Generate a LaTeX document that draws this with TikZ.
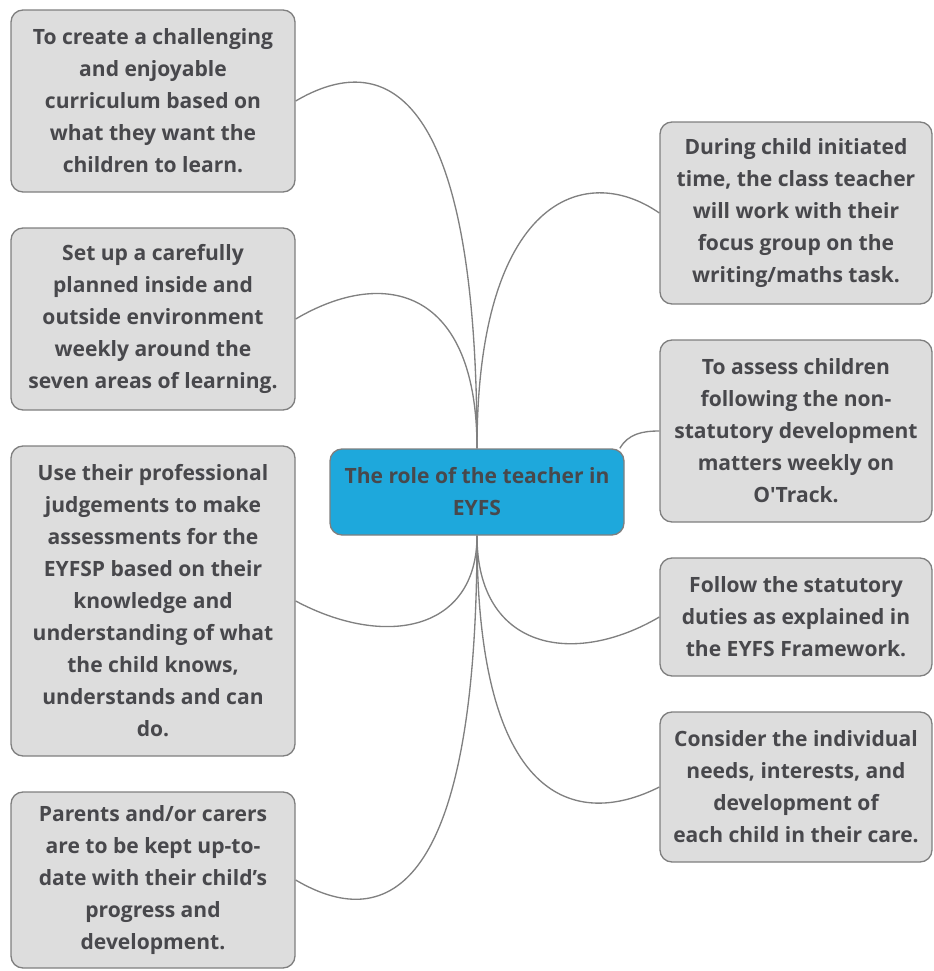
\documentclass[tikz,border=0pt]{standalone}
\usepackage{fontspec}
\setmainfont{Open Sans}
\usetikzlibrary{positioning}
\definecolor{boxfill}{HTML}{DDDDDD}
\definecolor{boxborder}{HTML}{7F7F7F}
\definecolor{rootfill}{HTML}{1EA8DC}
\definecolor{textgrey}{HTML}{48484C}
\definecolor{linkgrey}{HTML}{808080}

\begin{document}
\begin{tikzpicture}[
    x=0.75pt, y=-0.75pt,
    topic/.style={draw=boxborder, fill=boxfill, rounded corners=9pt, line width=1pt,
        align=center, inner sep=0pt, text=textgrey,
        font=\bfseries\fontsize{15.8}{24}\selectfont},
    lbox/.style={topic, minimum width=213pt},
    rbox/.style={topic, minimum width=204pt},
    root/.style={topic, fill=rootfill, minimum width=220.5pt, minimum height=64.5pt},
    link/.style={draw=linkgrey, line width=1pt},
]
\useasboundingbox (0,0) rectangle (933,971);

% === CENTRE ===
\node[root] (role) at (477,492) {The role of the teacher in\\EYFS};

% === LEFT ===
\node[lbox, minimum height=136.5pt] (curriculum) at (153,101)
    {To create a challenging\\and enjoyable\\curriculum based on\\what they want the\\children to learn.};
\node[lbox, minimum height=136.5pt] (environment) at (153,319)
    {Set up a carefully\\planned inside and\\outside environment\\weekly around the\\seven areas of learning.};
\node[lbox, minimum height=232.5pt] (judgement) at (153,601)
    {Use their professional\\judgements to make\\assessments for the\\EYFSP based on their\\knowledge and\\understanding of what\\the child knows,\\understands and can\\do.};
\node[lbox, minimum height=132pt] (parents) at (153,880)
    {Parents and/or carers\\are to be kept up-to-\\date with their child’s\\progress and\\development.};

% === RIGHT ===
\node[rbox, minimum height=136.5pt] (focus) at (796,213)
    {During child initiated\\time, the class teacher\\will work with their\\focus group on the\\writing/maths task.};
\node[rbox, minimum height=136.5pt] (assess) at (796,431)
    {To assess children\\following the non-\\statutory development\\matters weekly on\\O\textquotesingle Track.};
\node[rbox, minimum height=88.5pt] (duties) at (796,617)
    {Follow the statutory\\duties as explained in\\the EYFS Framework.};
\node[rbox, minimum height=112.5pt] (needs) at (796,787)
    {Consider the individual\\needs, interests, and\\development of\\each child in their care.};

% links
\draw[link] (role.north) .. controls +(0,-369) and +(85,-50) .. (curriculum.east);
\draw[link] (role.north) .. controls +(0,-159) and +(90,-53) .. (environment.east);
\draw[link] (role.north) .. controls +(0,-249) and +(-75,-52) .. (focus.west);
\draw[link] (role.17) to[out=60, in=180] (assess.west);
\draw[link] (role.south) .. controls +(0,95) and +(90,48) .. (judgement.east);
\draw[link] (role.south) .. controls +(0,369) and +(85,50) .. (parents.east);
\draw[link] (role.south) .. controls +(0,115) and +(-85,50) .. (duties.west);
\draw[link] (role.south) .. controls +(0,280) and +(-75,38) .. (needs.west);

\end{tikzpicture}
\end{document}
